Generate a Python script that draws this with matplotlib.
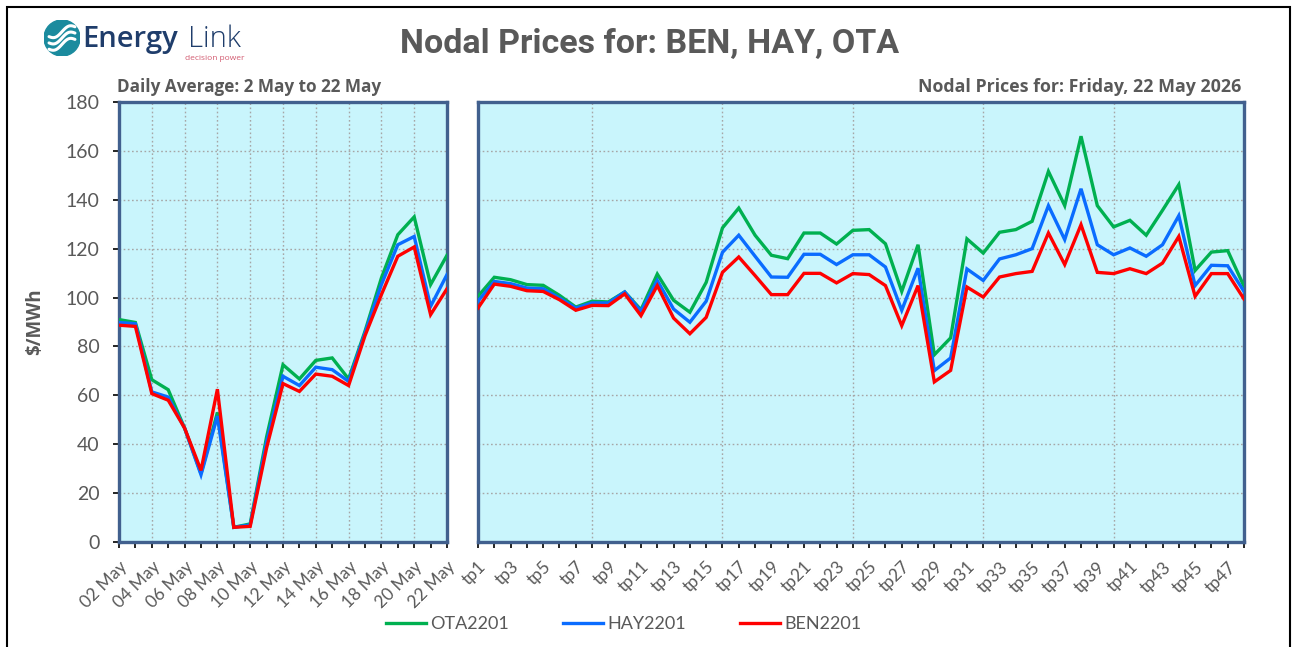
import matplotlib
matplotlib.use("Agg")
import matplotlib.pyplot as plt
import numpy as np
from matplotlib.patches import Circle, Rectangle

# ---------------- data ----------------
days = ["02 May", "03 May", "04 May", "05 May", "06 May", "07 May", "08 May",
        "09 May", "10 May", "11 May", "12 May", "13 May", "14 May", "15 May",
        "16 May", "17 May", "18 May", "19 May", "20 May", "21 May", "22 May"]
daily_ota = [91, 89.8, 66.4, 62.3, 46.6, 28, 53, 6, 7.4, 43, 72.5, 66.7, 74.3, 75.3,
             66.7, 86.2, 108, 125.7, 133, 105.3, 117.3]
daily_hay = [89.8, 89.3, 61.4, 59.3, 46.6, 27.5, 51.5, 6, 7, 41, 67.8, 64, 71.5, 70.5,
             65.7, 85.5, 105.3, 121.6, 125, 96.4, 109.4]
daily_ben = [88.7, 88.2, 60.7, 58, 46.6, 29.3, 62.5, 6, 6.4, 38.5, 64.8, 61.6, 68.7, 67.8,
             64, 84.4, 101.2, 116.9, 120.7, 93, 103.6]

tps = ["tp%d" % i for i in range(1, 49)]
tp_ota = [100.5, 108.3, 107.3, 105.3, 105, 100.9, 96.1, 98.5, 98.2, 102.3, 95, 109.6,
          98.9, 94, 106.2, 128.5, 136.6, 125.5, 117.3, 115.9, 126.4, 126.4, 121.9, 127.5,
          127.8, 122, 102.5, 121.6, 76.6, 83.5, 124, 118.2, 126.7, 127.8, 131.2, 151.6,
          137.6, 166, 137.6, 128.9, 131.6, 125.5, 135.7, 146.2, 111.1, 118.6, 119.2, 104.6]
tp_hay = [98.5, 106.6, 105.7, 103.9, 103.6, 99.8, 95.7, 97.8, 97.8, 102.3, 94.4, 107,
          95.3, 89.9, 98.5, 118.5, 125.5, 116.9, 108.4, 108.3, 117.7, 117.7, 113.5, 117.5,
          117.5, 112.5, 94.8, 112, 70.1, 75.3, 111.7, 107, 115.8, 117.5, 120, 137.6,
          123.7, 144.5, 121.6, 117.5, 120.3, 116.9, 121.6, 133.5, 104.9, 113.2, 113, 102.5]
tp_ben = [95.7, 105.5, 104.6, 102.8, 102.5, 99.1, 94.8, 96.8, 96.7, 101.5, 92.6, 104.9,
          91.6, 85.2, 91.9, 110.3, 116.6, 109, 101.2, 101.2, 109.9, 109.9, 106, 109.8,
          109.4, 104.9, 88.5, 104.9, 65.5, 70.2, 104.3, 100.2, 108.4, 109.8, 110.7, 126.4,
          113.5, 129.8, 110.3, 109.8, 111.8, 109.8, 114.1, 125, 100.5, 109.8, 109.8, 99.4]

series_names = ["OTA2201", "HAY2201", "BEN2201"]
colors = ["#00b050", "#0a6cff", "#ff0000"]
yticks = [0, 20, 40, 60, 80, 100, 120, 140, 160, 180]

# ---------------- styling ----------------
W, H = 1293, 647
fig = plt.figure(figsize=(W / 100, H / 100), dpi=100)
face = "#c9f5fc"
frame_col = "#41608e"
txt_col = "#595959"
tick_font = ["Lato", "DejaVu Sans"]
bold_font = ["Open Sans", "DejaVu Sans"]


def fx(px):
    return px / W


def fy(py):
    return 1 - py / H


axL = fig.add_axes([fx(119), fy(542), fx(447) - fx(119), fy(102) - fy(542)])
axR = fig.add_axes([fx(478), fy(542), fx(1244) - fx(478), fy(102) - fy(542)])

panels = [
    (axL, days, [daily_ota, daily_hay, daily_ben], list(range(2, len(days), 2))),
    (axR, tps, [tp_ota, tp_hay, tp_ben], list(range(7, len(tps), 8))),
]

for ax, cats, vals, vgrid in panels:
    x = np.arange(len(cats))
    ax.set_facecolor(face)
    for v, c, n in zip(vals, colors, series_names):
        ax.plot(x, v, color=c, lw=2.4, label=n, solid_joinstyle="miter", zorder=3)
    ax.set_xlim(0, len(cats) - 1)
    ax.set_ylim(0, 180)
    ax.set_yticks(yticks)
    for g in yticks[1:]:
        ax.axhline(g, color="#a6a6a6", lw=1.0, ls=(0, (1.2, 1.8)), zorder=1)
    for g in vgrid:
        ax.axvline(g, color="#a6a6a6", lw=1.0, ls=(0, (1.2, 1.8)), zorder=1)
    ax.set_xticks(x)
    ax.set_xticklabels([c if i % 2 == 0 else "" for i, c in enumerate(cats)],
                       rotation=45, ha="right", rotation_mode="anchor",
                       fontsize=12.5, color=txt_col, family=tick_font)
    ax.tick_params(axis="x", direction="out", length=4, width=1.2, color="black", pad=8)
    for s in ax.spines.values():
        s.set_color(frame_col)
        s.set_linewidth(2.4)
    ax.grid(False)

axL.set_yticklabels([str(t) for t in yticks], fontsize=14, color=txt_col, family=tick_font)
axL.tick_params(axis="y", direction="out", length=4, width=1.2, color="black", pad=10)
axR.set_yticks(yticks)
axR.tick_params(axis="y", length=0, labelleft=False)

axL.set_ylabel("$/MWh", fontsize=13.5, fontweight="bold", color=txt_col,
               family=bold_font, labelpad=15)

# titles
fig.text(fx(650), fy(44), "Nodal Prices for: BEN, HAY, OTA", ha="center", va="center",
         fontsize=24.5, fontweight="bold", color=txt_col,
         family=["Roboto", "DejaVu Sans"])
fig.text(fx(117), fy(87), "Daily Average: 2 May to 22 May", ha="left", va="center",
         fontsize=12.3, fontweight="bold", color=txt_col, family=bold_font)
fig.text(fx(1241), fy(87), "Nodal Prices for: Friday, 22 May 2026", ha="right", va="center",
         fontsize=12.8, fontweight="bold", color=txt_col, family=bold_font)

# legend
handles, labels = axR.get_legend_handles_labels()
fig.legend(handles, labels, loc="center", bbox_to_anchor=(fx(624), fy(624)), ncol=3,
           frameon=False, handlelength=2.2, handletextpad=0.25, columnspacing=3.0,
           prop={"family": tick_font, "size": 13}, labelcolor=txt_col)

# outer frame
fig.patches.append(Rectangle((fx(7), fy(660)), fx(1290) - fx(7), fy(7) - fy(660),
                             transform=fig.transFigure, fill=False, ec="black", lw=1.5))

# logo
axLogo = fig.add_axes([fx(44), fy(56), fx(36), fy(20) - fy(56)])
axLogo.set_xlim(-1, 1)
axLogo.set_ylim(-1, 1)
axLogo.set_aspect("equal")
axLogo.axis("off")
axLogo.add_patch(Circle((0, 0), 1, color="#1b8b9e"))
tt = np.linspace(-0.72, 0.72, 50)
for off in (-0.35, 0.0, 0.35):
    axLogo.plot(tt, off + 0.18 * np.sin(tt * 4.2) + 0.35 * tt, color="white", lw=2.2,
                solid_capstyle="round")
fig.text(fx(82), fy(39), "Energy", ha="left", va="center", fontsize=21, fontweight="semibold",
         color="#1f3d6b", family=["Open Sans", "DejaVu Sans"])
fig.text(fx(188), fy(39), "Link", ha="left", va="center", fontsize=21, fontweight="light",
         color="#1f3d6b", family=["Open Sans", "DejaVu Sans"])
fig.text(fx(245), fy(58), "decision power", ha="right", va="center", fontsize=6,
         color="#d25a70", family=["Open Sans", "DejaVu Sans"])

fig.savefig("out.png", dpi=100)
